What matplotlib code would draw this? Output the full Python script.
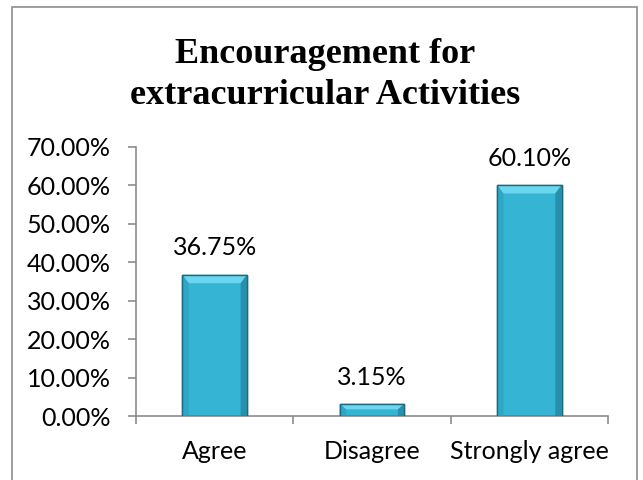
import matplotlib.pyplot as plt
from matplotlib.patches import Rectangle, Polygon

categories = ["Agree", "Disagree", "Strongly agree"]
values = [36.75, 3.15, 60.10]
yticks = [0, 10, 20, 30, 40, 50, 60, 70]

fig = plt.figure(figsize=(6.43, 4.8), dpi=100)
ax = fig.add_axes([136 / 643, 1 - 416 / 480, 472 / 643, 269 / 480])

# outer chart border
fig.patches.append(Rectangle((12 / 643, -0.05), 625 / 643, 1 - 7 / 480 + 0.05,
                             transform=fig.transFigure, fill=False,
                             edgecolor="#8c8c8c", linewidth=1.2))

x = list(range(len(categories)))
width = 0.41
bars = ax.bar(x, values, width=width, color="#35b4d4", edgecolor="#1b6a7d",
              linewidth=1.0, zorder=3)

# bevel look: light top face, slightly darker sides
for b in bars:
    bx, bw, bh = b.get_x(), b.get_width(), b.get_height()
    dy = min(2.2, bh * 0.45)
    dx = 0.04
    ax.add_patch(Polygon([(bx, bh), (bx + bw, bh), (bx + bw - dx, bh - dy), (bx + dx, bh - dy)],
                         closed=True, color="#6ad6f0", lw=0, zorder=4))
    ax.add_patch(Polygon([(bx, 0), (bx, bh), (bx + dx, bh - dy), (bx + dx, 0)],
                         closed=True, color="#2ea6c4", lw=0, zorder=4))
    ax.add_patch(Polygon([(bx + bw, 0), (bx + bw, bh), (bx + bw - dx, bh - dy), (bx + bw - dx, 0)],
                         closed=True, color="#2690ad", lw=0, zorder=4))
    ax.add_patch(Rectangle((bx, 0), bw, bh, fill=False, edgecolor="#1b6a7d", lw=1.0, zorder=5))

for xi, v in zip(x, values):
    ax.text(xi, v + 4.0, f"{v:.2f}%", ha="center", va="bottom",
            fontsize=18, family="Lato", color="#000000")

ax.set_xlim(-0.5, 2.5)
ax.set_ylim(0, 70)
ax.set_yticks(yticks)
ax.set_yticklabels([f"{t:.2f}%" for t in yticks], fontsize=18, family="Lato")
ax.set_xticks(x)
ax.set_xticklabels(categories, fontsize=18, family="Lato")
ax.set_xticks([-0.5, 0.5, 1.5, 2.5], minor=True)
ax.tick_params(axis="x", which="major", length=0, pad=17)
ax.tick_params(axis="x", which="minor", length=6, color="#8c8c8c", width=1.2)
ax.tick_params(axis="y", length=6, color="#8c8c8c", width=1.2, pad=12)

for s in ["top", "right"]:
    ax.spines[s].set_visible(False)
for s in ["left", "bottom"]:
    ax.spines[s].set_color("#8c8c8c")
    ax.spines[s].set_linewidth(1.2)

fig.text(325 / 643, 1 - 75 / 480, "Encouragement for\nextracurricular Activities",
         ha="center", va="center", fontsize=26, fontweight="bold",
         family="Liberation Serif", linespacing=1.3)

fig.savefig("out.png", dpi=100)
